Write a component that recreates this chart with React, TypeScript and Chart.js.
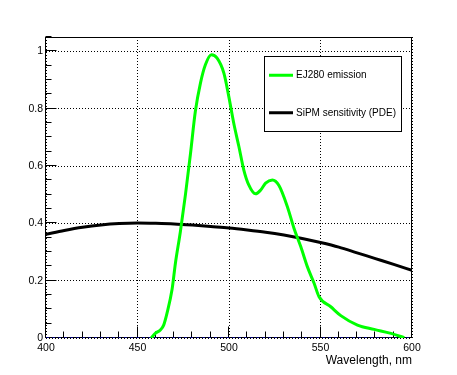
import React, { useEffect, useRef } from "react";
import { Chart, registerables } from "chart.js";

Chart.register(...registerables);

const FONT = '"Liberation Sans", Arial, Helvetica, sans-serif';

// EJ280 emission spectrum (normalised)
const emissionWavelength = [
  457.4, 459.7, 462.5, 464.3, 466.1, 468.9, 470.7, 473.4, 476.2, 478.9, 481.6,
  484.4, 487.1, 490.4, 493.5, 497.2, 499.9, 502.6, 505.4, 508.1, 510.8, 514.5,
  517.3, 520.0, 523.7, 527.3, 531.9, 535.5, 539.2, 542.8, 546.5, 549.2, 555.6,
  561.1, 570.2, 579.3, 588.5, 595.8,
];
const emissionValue = [
  0.0, 0.016, 0.028, 0.045, 0.086, 0.17, 0.26, 0.37, 0.5, 0.64, 0.79,
  0.889, 0.953, 0.988, 0.976, 0.924, 0.842, 0.749, 0.668, 0.586, 0.534, 0.503,
  0.516, 0.54, 0.551, 0.532, 0.458, 0.383, 0.319, 0.249, 0.191, 0.144, 0.109,
  0.078, 0.045, 0.03, 0.016, 0.001,
];

// SiPM photon detection efficiency
const pdeWavelength = [
  400, 410, 420, 430, 440, 450, 460, 470, 480, 490, 500, 510, 520, 530, 540,
  550, 560, 570, 580, 590, 600,
];
const pdeValue = [
  0.362, 0.375, 0.386, 0.394, 0.399, 0.401, 0.4, 0.398, 0.394, 0.389, 0.384,
  0.377, 0.369, 0.359, 0.347, 0.333, 0.317, 0.297, 0.277, 0.257, 0.236,
];

// zero line
const zeroWavelength = [400, 600];
const zeroValue = [0, 0];

const seriesLabels = ["EJ280 emission", "SiPM sensitivity (PDE)"];
const xAxisTitle = "Wavelength, nm";
const xMin = 400;
const xMax = 600;
const yMin = 0;
const yMax = 1.05;

const toPoints = (xs: number[], ys: number[]) =>
  xs.map((x, i) => ({ x, y: ys[i] }));

const framePlugin = {
  id: "rootFrame",
  beforeDatasetsDraw(chart: any) {
    const { ctx, chartArea: a, scales } = chart;
    const x = scales.x;
    const y = scales.y;
    const L = Math.floor(a.left) - 0.5;
    const R = Math.floor(a.right) - 0.5;
    const T = Math.floor(a.top) + 0.5;
    const B = Math.floor(a.bottom) - 0.5;
    ctx.save();
    ctx.strokeStyle = "#000";
    ctx.lineWidth = 1;
    ctx.setLineDash([]);
    ctx.strokeRect(L, T, R - L, B - T);
    ctx.beginPath();
    for (let v = xMin; v <= xMax + 0.001; v += 10) {
      const px = Math.round(x.getPixelForValue(v)) - 0.5;
      const len = Math.abs(v % 50) < 0.001 ? 11 : 6;
      ctx.moveTo(px, B);
      ctx.lineTo(px, B - len);
    }
    for (let i = 0; i * 0.05 <= yMax + 0.0001; i++) {
      const v = i * 0.05;
      const py = Math.round(y.getPixelForValue(v)) - 0.5;
      const len = i % 4 === 0 ? 11 : 6;
      ctx.moveTo(L, py);
      ctx.lineTo(L + len, py);
    }
    ctx.stroke();
    ctx.restore();
  },
};

const legendPlugin = {
  id: "rootLegend",
  afterDraw(chart: any) {
    const { ctx } = chart;
    const bx = 264.5;
    const by = 56.5;
    const bw = 137;
    const bh = 75;
    ctx.save();
    ctx.fillStyle = "#fff";
    ctx.fillRect(bx, by, bw, bh);
    ctx.strokeStyle = "#000";
    ctx.lineWidth = 1;
    ctx.setLineDash([]);
    ctx.strokeRect(bx, by, bw, bh);
    const ds = chart.data.datasets.filter((d: any) =>
      seriesLabels.includes(d.label)
    );
    const rowH = bh / ds.length;
    ds.forEach((d: any, i: number) => {
      const cy = by + rowH * (i + 0.5);
      ctx.strokeStyle = d.borderColor;
      ctx.lineWidth = 3;
      ctx.beginPath();
      ctx.moveTo(269, cy);
      ctx.lineTo(293, cy);
      ctx.stroke();
      ctx.fillStyle = "#000";
      ctx.font = `10px ${FONT}`;
      ctx.textAlign = "left";
      ctx.textBaseline = "middle";
      ctx.fillText(d.label, 296, cy);
    });
    ctx.restore();
  },
};

export default function App() {
  const ref = useRef<HTMLCanvasElement | null>(null);

  useEffect(() => {
    document.body.style.margin = "0";
    if (!ref.current) return;
    const chart = new Chart(ref.current, {
      type: "line",
      data: {
        datasets: [
          {
            label: seriesLabels[0],
            data: toPoints(emissionWavelength, emissionValue),
            borderColor: "#00ff00",
            backgroundColor: "#00ff00",
            borderWidth: 3,
            pointRadius: 0,
            cubicInterpolationMode: "monotone",
            fill: false,
          },
          {
            label: seriesLabels[1],
            data: toPoints(pdeWavelength, pdeValue),
            borderColor: "#000000",
            backgroundColor: "#000000",
            borderWidth: 3,
            pointRadius: 0,
            cubicInterpolationMode: "monotone",
            fill: false,
          },
          {
            label: "zero",
            data: toPoints(zeroWavelength, zeroValue),
            borderColor: "#000099",
            borderWidth: 1.5,
            borderDash: [3, 3],
            pointRadius: 0,
            fill: false,
          },
        ],
      },
      options: {
        responsive: false,
        animation: false,
        devicePixelRatio: 1,
        layout: { padding: { top: 37, right: 45, left: 0, bottom: 0 } },
        plugins: {
          legend: { display: false },
          tooltip: { enabled: false },
        },
        scales: {
          x: {
            type: "linear",
            min: xMin,
            max: xMax,
            afterFit: (s: any) => {
              s.height = 37;
            },
            grid: {
              color: "#000",
              lineWidth: 1,
              drawTicks: false,
            },
            border: { display: false, dash: [1, 2] },
            ticks: {
              stepSize: 50,
              autoSkip: false,
              maxRotation: 0,
              includeBounds: false,
              padding: 4,
              color: "#000",
              font: { family: FONT, size: 10.5 },
              callback: (v: any) => String(v),
            },
            title: {
              display: true,
              text: xAxisTitle,
              align: "end",
              color: "#000",
              font: { family: FONT, size: 12 },
              padding: { top: 0, bottom: 7 },
            },
          },
          y: {
            type: "linear",
            min: yMin,
            max: yMax,
            afterFit: (s: any) => {
              s.width = 46;
            },
            grid: {
              color: "#000",
              lineWidth: 1,
              drawTicks: false,
            },
            border: { display: false, dash: [1, 2] },
            ticks: {
              stepSize: 0.2,
              autoSkip: false,
              includeBounds: false,
              padding: 3,
              color: "#000",
              font: { family: FONT, size: 10.5 },
              callback: (v: any) => String(Math.round(Number(v) * 10) / 10),
            },
          },
        },
      },
      plugins: [framePlugin, legendPlugin],
    } as any);
    return () => chart.destroy();
  }, []);

  return (
    <div style={{ position: "fixed", left: 0, top: 0, width: 457, height: 375, background: "#fff" }}>
      <canvas ref={ref} width={457} height={375} />
    </div>
  );
}
